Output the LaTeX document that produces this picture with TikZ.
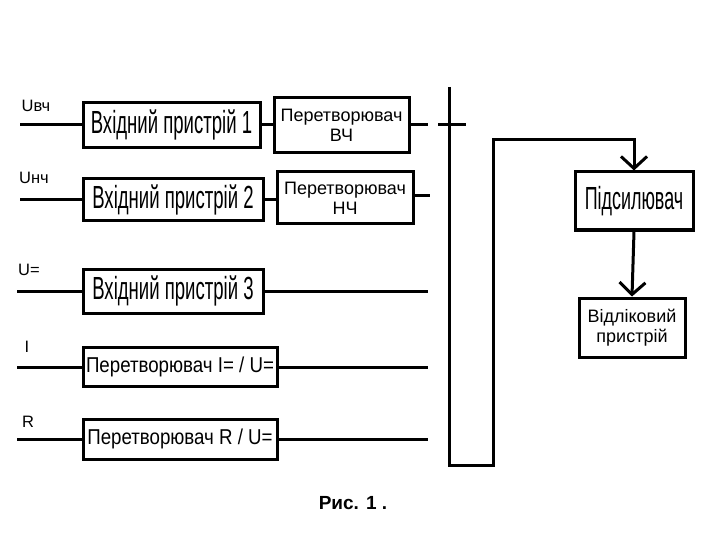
\documentclass[tikz,border=0pt]{standalone}
\usepackage{fontspec}
\setmainfont{Liberation Sans}
\usepackage{graphicx}
\usetikzlibrary{arrows.meta}
\newcommand\condtext[3]{\scalebox{#1}[1]{\fontsize{#2}{#2}\selectfont #3}}
\begin{document}
\begin{tikzpicture}[x=1pt,y=-1pt,
  box/.style={draw, line width=3pt, inner sep=0pt, rectangle, align=center},
  wire/.style={line width=3pt},
  arr/.style={line width=3pt,-{Straight Barb[length=12pt,width=26pt,line width=3pt]}},
  lbl/.style={inner sep=0pt, font=\fontsize{16.5}{16.5}\selectfont},
  small/.style={font=\fontsize{18}{20}\selectfont}]
\useasboundingbox (0,0) rectangle (720,540);

% boxes
\node[box, minimum width=177pt, minimum height=45pt] (b1) at (171.5,125) {\condtext{0.58}{32}{Вхідний пристрій 1}};
\node[box, small, minimum width=135pt, minimum height=55pt] (pv) at (341.5,125) {Перетворювач\\ВЧ};
\node[box, minimum width=180pt, minimum height=42pt] (b2) at (173,200) {\condtext{0.58}{32}{Вхідний пристрій 2}};
\node[box, small, minimum width=136pt, minimum height=52pt] (pn) at (345,198) {Перетворювач\\НЧ};
\node[box, minimum width=180pt, minimum height=44pt] (b3) at (173,291) {\condtext{0.58}{32}{Вхідний пристрій 3}};
\node[box, minimum width=194pt, minimum height=39pt] (b4) at (180,367) {\condtext{0.87}{21.5}{Перетворювач I= / U=}};
\node[box, minimum width=194pt, minimum height=40pt] (b5) at (180,439) {\condtext{0.87}{21.5}{Перетворювач R / U=}};
\node[box, minimum width=118pt, minimum height=58pt] (amp) at (634,201) {\condtext{0.56}{32}{Підсилювач}};
\node[box, small, minimum width=106pt, minimum height=59pt] (cnt) at (632,327.5) {Відліковий\\пристрій};

% labels
\node[lbl] (l1) at (36,106) {Uвч};
\node[lbl] (l2) at (34,178) {Uнч};
\node[lbl] (l3) at (29,270) {U=};
\node[lbl] (l4) at (27,347) {I};
\node[lbl] (l5) at (28,422) {R};

% input ends
\coordinate (i1) at (20,125);
\coordinate (i2) at (20,200);
\coordinate (i3) at (17,291);
\coordinate (i4) at (17,367);
\coordinate (i5) at (17,439);
\draw[wire] (i1) -- (b1.west);
\draw[wire] (i2) -- (b2.west);
\draw[wire] (i3) -- (b3.west);
\draw[wire] (i4) -- (b4.west);
\draw[wire] (i5) -- (b5.west);

% between boxes
\draw[wire] (b1.east) -- (pv.west);
\draw[wire] (b2.east) -- (b2.east -| pn.west);

% output stubs
\coordinate (o1) at (428,125);
\coordinate (o2) at (430,196);
\coordinate (o3) at (428,291);
\coordinate (o4) at (428,367);
\coordinate (o5) at (428,439);
\draw[wire] (pv.east) -- (o1);
\draw[wire] (pn.east |- o2) -- (o2);
\draw[wire] (b3.east) -- (o3);
\draw[wire] (b4.east) -- (o4);
\draw[wire] (b5.east) -- (o5);
\coordinate (t1a) at (438,125);
\coordinate (t1b) at (466,125);
\draw[wire] (t1a) -- (t1b);

% bus
\coordinate (bt) at (449,87);
\coordinate (bb) at (449,465);
\coordinate (c1) at (493,140);
\draw[arr] (bt) -- (bb) -- (bb -| c1) -- (c1) -- (c1 -| amp.north) -- (amp.north);
\draw[arr] (amp.south) -- (cnt.north);

% caption
\node[inner sep=0pt, font=\fontsize{19}{19}\selectfont\bfseries] (cap) at (353,503) {Рис. 1 .};
\end{tikzpicture}
\end{document}
